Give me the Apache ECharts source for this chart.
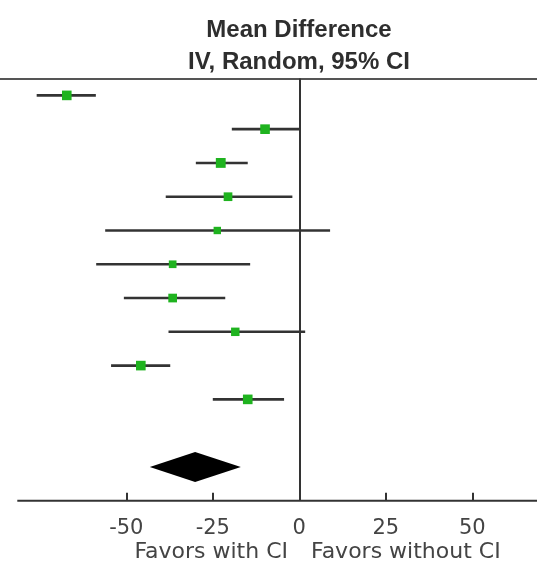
<!DOCTYPE html>
<html><head><meta charset="utf-8">
<script src="https://cdn.jsdelivr.net/npm/echarts@6/dist/echarts.min.js"></script>
<style>html,body{margin:0;padding:0;background:#fff}#c{width:537px;height:563px}</style>
</head><body><div id="c"></div>
<script>
// ---- data ----
const studies = ['Study 1','Study 2','Study 3','Study 4','Study 5','Study 6','Study 7','Study 8','Study 9','Study 10'];
const meanDiff = [-67.2, -9.9, -22.7, -20.6, -23.7, -36.6, -36.6, -18.5, -45.8, -14.9];
const ciLower  = [-75.9, -19.5, -29.9, -38.6, -56.1, -58.7, -50.7, -37.8, -54.4, -25.0];
const ciUpper  = [-58.8,   0.2, -14.9,  -2.0,   8.9, -14.2, -21.4,   1.7, -37.3,  -4.4];
const weights  = [11.0, 11.0, 11.5, 9.0, 6.5, 7.0, 9.0, 8.5, 11.0, 11.0];
const pooledMean = [-30.1];
const pooledLower = [-43.2];
const pooledUpper = [-16.9];
const xTickValues = [-50, -25, 0, 25, 50];
const axisExtent = [-81.5, 68.7];
const titleLines = ['Mean Difference', 'IV, Random, 95% CI'];
const sideLabels = ['Favors with CI', 'Favors without CI'];

// ---- chart ----
const chart = echarts.init(document.getElementById('c'));
const pooledRow = studies.length + 2;
const bottomRow = studies.length + 3;

const studyData = studies.map((s, i) => [i + 1, ciLower[i], meanDiff[i], ciUpper[i], weights[i]]);
const pooledData = pooledMean.map((m, i) => [pooledRow, pooledLower[i], m, pooledUpper[i]]);

chart.setOption({
  animation: false,
  backgroundColor: '#fff',
  title: [
    { text: titleLines.join('\n'), left: 299, top: 14, textAlign: 'center', padding: 0,
      textStyle: { fontFamily: 'Liberation Sans', fontWeight: 'bold', fontSize: 24, lineHeight: 32, color: '#2e2e2e' } },
    { text: sideLabels[0], right: 249, top: 541, padding: 0,
      textStyle: { fontFamily: 'DejaVu Sans', fontWeight: 'normal', fontSize: 22, color: '#444' } },
    { text: sideLabels[1], left: 311, top: 541, padding: 0,
      textStyle: { fontFamily: 'DejaVu Sans', fontWeight: 'normal', fontSize: 22, color: '#444' } }
  ],
  grid: { left: 0, right: 0, top: 78.5, bottom: 62.3, containLabel: false },
  xAxis: [
    { type: 'value', position: 'bottom', min: -86.5, max: 68.7,
      axisLine: { show: false },
      axisTick: { show: true, inside: true, length: 8, customValues: xTickValues, lineStyle: { color: '#333', width: 2 } },
      axisLabel: { show: true, customValues: xTickValues, margin: 17, fontFamily: 'DejaVu Sans', fontSize: 21, color: '#444' },
      splitLine: { show: false } },
    { type: 'value', position: 'top', min: -86.5, max: 68.7,
      axisLine: { show: true, lineStyle: { color: '#555', width: 2 } },
      axisTick: { show: false }, axisLabel: { show: false }, splitLine: { show: false } }
  ],
  yAxis: { type: 'value', inverse: true, min: 0.5, max: bottomRow, show: false },
  series: [
    { type: 'line', xAxisIndex: 0, clip: false, silent: true, symbol: 'none',
      data: [[axisExtent[0], bottomRow], [axisExtent[1], bottomRow]],
      lineStyle: { color: '#333', width: 2 } },
    { type: 'custom', xAxisIndex: 0, clip: false, silent: true,
      data: studyData,
      renderItem: function (params, api) {
        const y = api.value(0);
        const lo = api.coord([api.value(1), y]);
        const hi = api.coord([api.value(3), y]);
        const m = api.coord([api.value(2), y]);
        const s = Math.sqrt(api.value(4)) * 2.9;
        return { type: 'group', children: [
          { type: 'line', shape: { x1: lo[0], y1: lo[1], x2: hi[0], y2: hi[1] }, style: { stroke: '#333', lineWidth: 2.6 } },
          { type: 'rect', shape: { x: m[0] - s / 2, y: m[1] - s / 2, width: s, height: s }, style: { fill: '#1fb31f' } }
        ]};
      },
      markLine: { silent: true, symbol: 'none', label: { show: false },
        lineStyle: { color: '#333', width: 2, type: 'solid' },
        data: [{ xAxis: 0 }] }
    },
    { type: 'custom', xAxisIndex: 0, clip: false, silent: true,
      data: pooledData,
      renderItem: function (params, api) {
        const y = api.value(0);
        const lo = api.coord([api.value(1), y]);
        const hi = api.coord([api.value(3), y]);
        const m = api.coord([api.value(2), y]);
        const h = 15;
        return { type: 'polygon', shape: { points: [[lo[0], lo[1]], [m[0], m[1] - h], [hi[0], hi[1]], [m[0], m[1] + h]] },
          style: { fill: '#000' } };
      } }
  ]
});
</script></body></html>
